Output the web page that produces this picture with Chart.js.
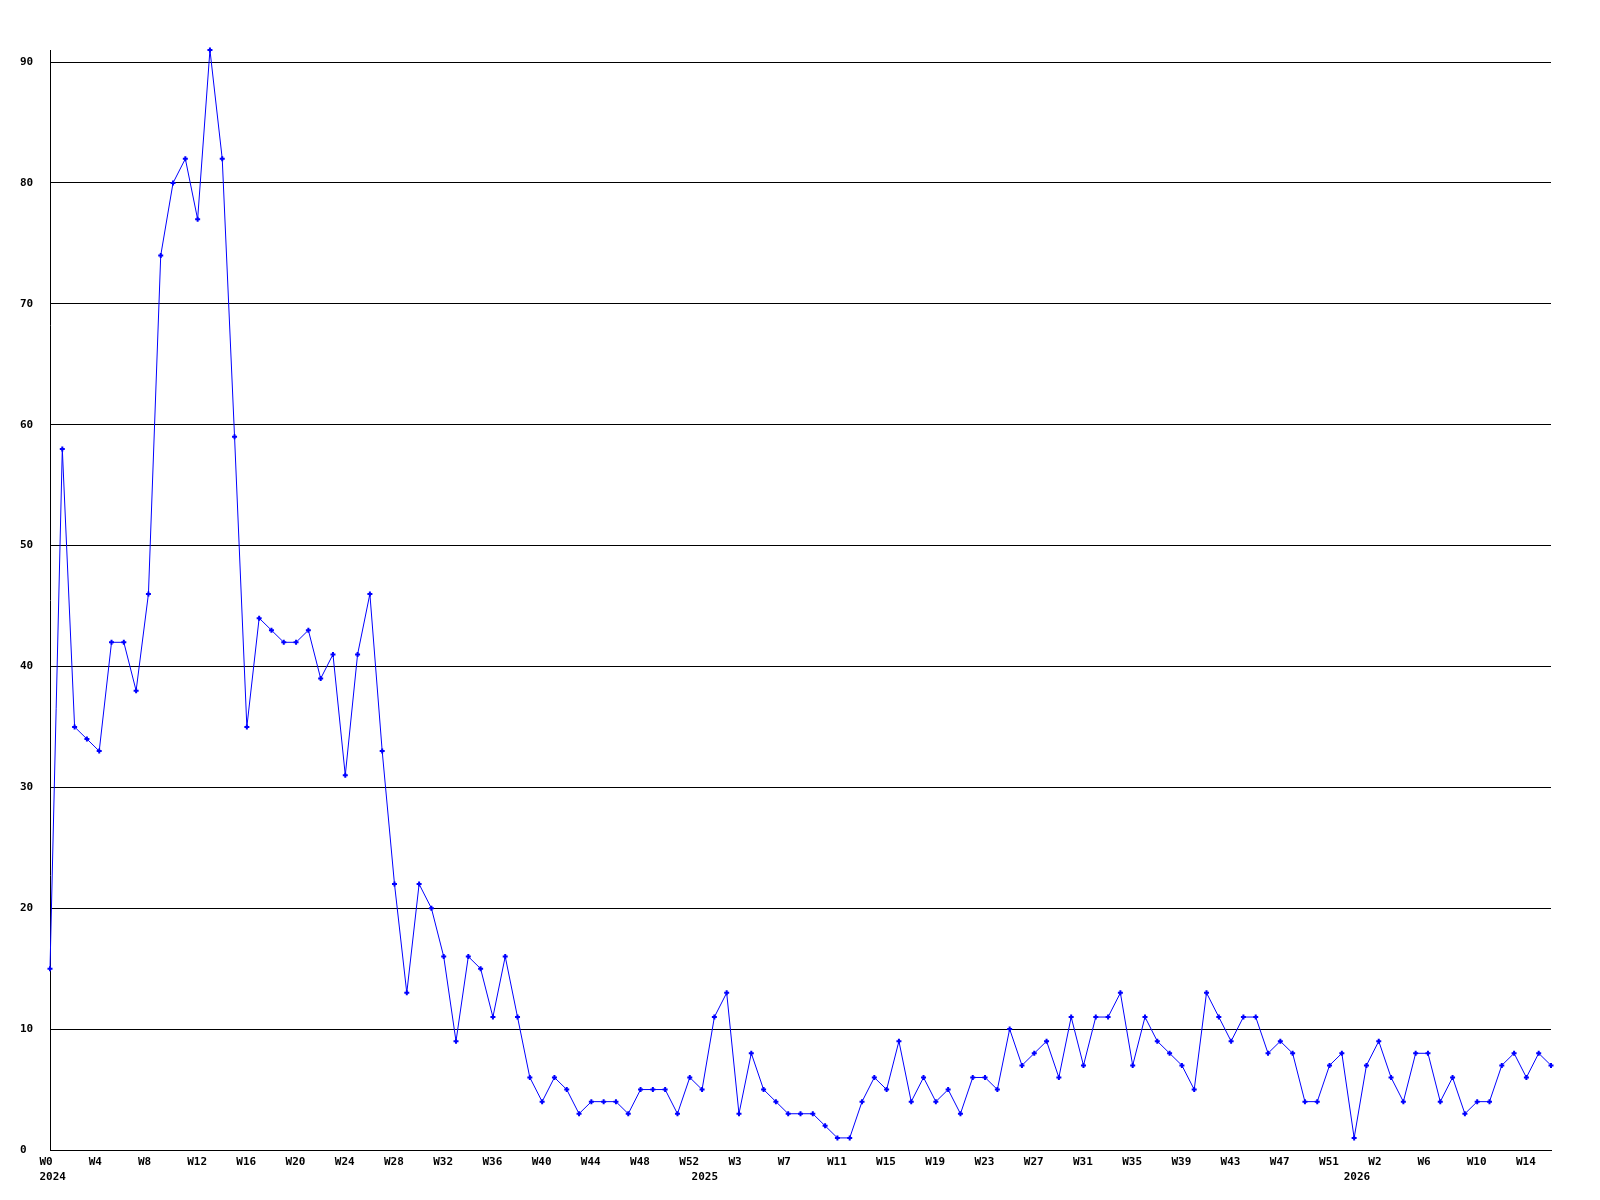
<!DOCTYPE html>
<html>
<head>
<meta charset="utf-8">
<script src="https://cdn.jsdelivr.net/npm/chart.js@4/dist/chart.umd.min.js"></script>
<style>
  html, body { margin: 0; padding: 0; background: #ffffff; }
  #wrap { width: 1600px; height: 1200px; }
</style>
</head>
<body>
<div id="wrap"><canvas id="c" width="1600" height="1200"></canvas></div>
<script>
// Categories: one per week, "year week"
const categories = [
  "2024 W0","2024 W1","2024 W2","2024 W3","2024 W4","2024 W5","2024 W6","2024 W7","2024 W8","2024 W9",
  "2024 W10","2024 W11","2024 W12","2024 W13","2024 W14","2024 W15","2024 W16","2024 W17","2024 W18","2024 W19",
  "2024 W20","2024 W21","2024 W22","2024 W23","2024 W24","2024 W25","2024 W26","2024 W27","2024 W28","2024 W29",
  "2024 W30","2024 W31","2024 W32","2024 W33","2024 W34","2024 W35","2024 W36","2024 W37","2024 W38","2024 W39",
  "2024 W40","2024 W41","2024 W42","2024 W43","2024 W44","2024 W45","2024 W46","2024 W47","2024 W48","2024 W49",
  "2024 W50","2024 W51","2024 W52",
  "2025 W0","2025 W1","2025 W2","2025 W3","2025 W4","2025 W5","2025 W6","2025 W7","2025 W8","2025 W9",
  "2025 W10","2025 W11","2025 W12","2025 W13","2025 W14","2025 W15","2025 W16","2025 W17","2025 W18","2025 W19",
  "2025 W20","2025 W21","2025 W22","2025 W23","2025 W24","2025 W25","2025 W26","2025 W27","2025 W28","2025 W29",
  "2025 W30","2025 W31","2025 W32","2025 W33","2025 W34","2025 W35","2025 W36","2025 W37","2025 W38","2025 W39",
  "2025 W40","2025 W41","2025 W42","2025 W43","2025 W44","2025 W45","2025 W46","2025 W47","2025 W48","2025 W49",
  "2025 W50","2025 W51","2025 W52",
  "2026 W0","2026 W1","2026 W2","2026 W3","2026 W4","2026 W5","2026 W6","2026 W7","2026 W8","2026 W9",
  "2026 W10","2026 W11","2026 W12","2026 W13","2026 W14","2026 W15","2026 W16"
];

// Weekly values
const values2024 = [
  15, 58, 35, 34, 33, 42, 42, 38, 46, 74,
  80, 82, 77, 91, 82, 59, 35, 44, 43, 42,
  42, 43, 39, 41, 31, 41, 46, 33, 22, 13,
  22, 20, 16, 9, 16, 15, 11, 16, 11, 6,
  4, 6, 5, 3, 4, 4, 4, 3, 5, 5,
  5, 3, 6
];
const values2025 = [
  5, 11, 13, 3, 8, 5, 4, 3, 3, 3,
  2, 1, 1, 4, 6, 5, 9, 4, 6, 4,
  5, 3, 6, 6, 5, 10, 7, 8, 9, 6,
  11, 7, 11, 11, 13, 7, 11, 9, 8, 7,
  5, 13, 11, 9, 11, 11, 8, 9, 8, 4,
  4, 7, 8
];
const values2026 = [
  1, 7, 9, 6, 4, 8, 8, 4, 6, 3,
  4, 4, 7, 8, 6, 8, 7
];

// Y axis ticks
const yTickValues = [0, 10, 20, 30, 40, 50, 60, 70, 80, 90];
const yMax = 91;

const values = values2024.concat(values2025, values2026);
const tickFont = { family: "'DejaVu Sans Mono', monospace", size: 11, weight: 'bold', lineHeight: '14.5px' };

new Chart(document.getElementById('c'), {
  type: 'line',
  data: {
    labels: categories,
    datasets: [{
      data: values,
      clip: false,
      borderColor: '#0000ff',
      backgroundColor: '#0000ff',
      borderWidth: 1,
      tension: 0,
      fill: false,
      pointStyle: 'cross',
      pointRadius: 2.5,
      pointBorderWidth: 2,
      pointBorderColor: '#0000ff',
      pointBackgroundColor: '#0000ff',
      pointHoverRadius: 2.5
    }]
  },
  options: {
    responsive: false,
    animation: false,
    events: [],
    layout: { padding: { left: 20, right: 49, top: 50, bottom: 0 } },
    plugins: { legend: { display: false }, tooltip: { enabled: false }, title: { display: false } },
    scales: {
      x: {
        type: 'category',
        offset: false,
        grid: { display: false, drawTicks: false },
        border: { display: true, color: '#000000', width: 1 },
        afterFit: (s) => { s.height = 50; },
        ticks: {
          autoSkip: false,
          maxRotation: 0,
          minRotation: 0,
          align: 'start',
          labelOffset: -10.5,
          padding: 5,
          color: '#000000',
          font: tickFont,
          callback: function (value, index) {
            const parts = categories[index].split(' ');
            const yr = parts[0], wk = parts[1];
            const showWeek = index % 4 === 0;
            const showYear = wk === 'W0';
            if (!showWeek && !showYear) return '';
            if (!showYear) return wk;
            return [showWeek ? wk : '', yr];
          }
        }
      },
      y: {
        min: 0,
        max: yMax,
        grid: { display: true, color: '#000000', lineWidth: 1, drawTicks: false },
        border: { display: true, color: '#000000', width: 1 },
        afterFit: (s) => { s.width = 30; },
        afterBuildTicks: (s) => { s.ticks = yTickValues.map(v => ({ value: v })); },
        ticks: {
          crossAlign: 'far',
          padding: 4,
          color: '#000000',
          font: tickFont
        }
      }
    }
  }
});
</script>
</body>
</html>
